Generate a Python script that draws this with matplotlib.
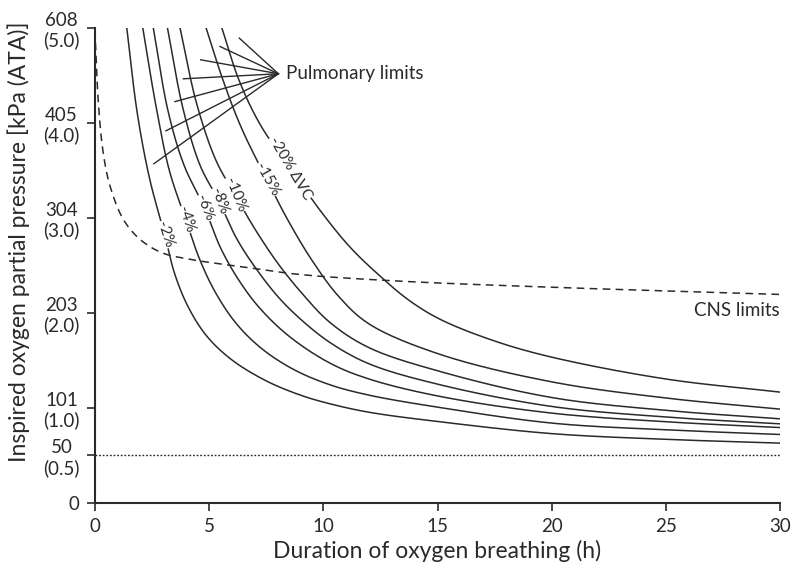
import numpy as np
import matplotlib
matplotlib.use("Agg")
import matplotlib.pyplot as plt

plt.rcParams['font.family'] = ['Lato', 'DejaVu Sans']

# pulmonary limit curves, duration (h) vs inspired PO2 (ATA), one pair per vital capacity decrement
t_2 = [1.39, 1.85, 2.4, 3.05, 3.5, 4.1, 4.9, 6.0, 7.5, 9.0, 10.29, 12.0, 15.1, 20.0, 25.0, 30.0]
p_2 = [5.0, 4.1, 3.4, 2.82, 2.4, 2.05, 1.75, 1.5, 1.28, 1.13, 1.039, 0.95, 0.85, 0.725, 0.665, 0.625]

t_4 = [2.09, 2.65, 3.25, 3.97, 4.6, 5.3, 6.2, 7.3, 8.7, 10.29, 12.0, 15.1, 20.0, 25.0, 30.0]
p_4 = [5.0, 4.2, 3.5, 2.98, 2.55, 2.2, 1.88, 1.62, 1.40, 1.239, 1.13, 1.0, 0.836, 0.765, 0.716]

t_6 = [2.55, 3.2, 3.9, 4.8, 5.5, 6.3, 7.2, 8.5, 10.29, 12.0, 15.1, 20.0, 25.0, 30.0]
p_6 = [5.0, 4.12, 3.55, 3.10, 2.68, 2.34, 2.05, 1.75, 1.467, 1.30, 1.117, 0.941, 0.85, 0.789]

t_8 = [3.17, 3.85, 4.6, 5.43, 6.2, 7.0, 8.0, 9.0, 10.29, 12.0, 15.1, 20.0, 25.0, 30.0]
p_8 = [5.0, 4.15, 3.55, 3.17, 2.78, 2.48, 2.17, 1.93, 1.684, 1.46, 1.24, 1.011, 0.9, 0.828]

t_10 = [3.72, 4.45, 5.3, 6.13, 7.0, 8.0, 9.0, 10.29, 12.0, 15.1, 20.0, 25.0, 30.0]
p_10 = [5.0, 4.2, 3.6, 3.24, 2.88, 2.52, 2.22, 1.895, 1.63, 1.38, 1.105, 0.97, 0.881]

t_15 = [4.86, 5.6, 6.4, 7.52, 8.5, 9.5, 10.67, 12.0, 15.1, 20.0, 25.0, 30.0]
p_15 = [5.0, 4.45, 3.95, 3.40, 2.95, 2.55, 2.17, 1.88, 1.56, 1.27, 1.1, 0.983]

t_20 = [5.55, 6.3, 7.23, 8.54, 10.0, 11.2, 12.5, 13.72, 15.1, 17.5, 20.0, 25.0, 30.0]
p_20 = [5.0, 4.45, 3.98, 3.52, 3.03, 2.68, 2.38, 2.134, 1.93, 1.70, 1.53, 1.30, 1.162]

# CNS limit (dashed)
t_cns = [0.02, 0.15, 0.36, 0.66, 1.24, 1.97, 2.92, 4.16, 6.79, 8.98, 13.36, 19.5, 30.0]
p_cns = [4.84, 4.2, 3.68, 3.33, 2.98, 2.77, 2.63, 2.56, 2.47, 2.40, 2.33, 2.27, 2.19]

# curve labels: text, position on the curve, angle
curve_labels = ["-2%", "-4%", "-6%", "-8%", "-10%", "-15%", "-20% ΔVC"]
label_t = [3.05, 3.97, 4.8, 5.43, 6.13, 7.52, 8.54]
label_p = [2.82, 2.98, 3.10, 3.17, 3.24, 3.40, 3.52]
label_rot = [-72, -72, -68, -70, -68, -61, -59.5]

# pointer lines fanning out from the "Pulmonary limits" note
hub = (8.03, 4.513)
pointer_t = [6.32, 5.475, 4.63, 3.87, 3.50, 3.11, 2.58]
pointer_p = [4.888, 4.80, 4.66, 4.46, 4.22, 3.913, 3.566]

ytick_vals = [0, 0.5, 1, 2, 3, 4, 5]
ytick_labels = ["0", "50\n(0.5)", "101\n(1.0)", "203\n(2.0)", "304\n(3.0)", "405\n(4.0)", "608\n(5.0)"]
xtick_vals = [0, 5, 10, 15, 20, 25, 30]

# px per unit on each axis, used so the smoothing works in screen proportions
SX, SY = 685 / 30, 475 / 5


def smooth(xs, ys, n=24):
    # centripetal catmull-rom through the read points
    pts = np.column_stack([np.asarray(xs, float) * SX, np.asarray(ys, float) * SY])
    pts = np.vstack([2 * pts[0] - pts[1], pts, 2 * pts[-1] - pts[-2]])
    out = []
    for i in range(len(pts) - 3):
        p0, p1, p2, p3 = pts[i:i + 4]
        k0 = 0.0
        k1 = k0 + np.linalg.norm(p1 - p0) ** 0.5
        k2 = k1 + np.linalg.norm(p2 - p1) ** 0.5
        k3 = k2 + np.linalg.norm(p3 - p2) ** 0.5
        u = np.linspace(k1, k2, n, endpoint=False)[:, None]
        a1 = (k1 - u) / (k1 - k0) * p0 + (u - k0) / (k1 - k0) * p1
        a2 = (k2 - u) / (k2 - k1) * p1 + (u - k1) / (k2 - k1) * p2
        a3 = (k3 - u) / (k3 - k2) * p2 + (u - k2) / (k3 - k2) * p3
        b1 = (k2 - u) / (k2 - k0) * a1 + (u - k0) / (k2 - k0) * a2
        b2 = (k3 - u) / (k3 - k1) * a2 + (u - k1) / (k3 - k1) * a3
        out.append((k2 - u) / (k2 - k1) * b1 + (u - k1) / (k2 - k1) * b2)
    out.append(pts[-2][None, :])
    c = np.vstack(out)
    return c[:, 0] / SX, c[:, 1] / SY


ink = "#2a2a2a"

fig = plt.figure(figsize=(7.92, 5.68), dpi=100)
ax = fig.add_axes([95 / 792, 65.5 / 568, 685 / 792, 475 / 568])

curves = [(t_2, p_2), (t_4, p_4), (t_6, p_6), (t_8, p_8), (t_10, p_10), (t_15, p_15), (t_20, p_20)]
for t, p in curves:
    xs, ys = smooth(t, p)
    ax.plot(xs, ys, color=ink, lw=1.1, solid_capstyle="butt")

xs, ys = smooth(t_cns, p_cns)
ax.plot(xs, ys, color=ink, lw=1.1, linestyle=(0, (5, 3.5)))

# 0.5 ATA line
ax.plot([0, 30], [0.5, 0.5], color=ink, lw=1.0, linestyle=(0, (1.3, 1.3)))

for pt, pp in zip(pointer_t, pointer_p):
    ax.plot([hub[0], pt], [hub[1], pp], color=ink, lw=1.0)

for txt, lt, lp, rot in zip(curve_labels, label_t, label_p, label_rot):
    ax.text(lt, lp, txt, rotation=rot, rotation_mode="anchor", ha="center", va="center",
            fontsize=11, color=ink, family=['Lato', 'DejaVu Sans'],
            bbox=dict(facecolor="white", edgecolor="none", pad=0.6))

ax.text(hub[0] + 0.35, hub[1], "Pulmonary limits", ha="left", va="center", fontsize=13.5, color=ink)
ax.text(30, 2.02, "CNS limits", ha="right", va="center", fontsize=13.5, color=ink)

ax.set_xlim(0, 30)
ax.set_ylim(0, 5)
ax.set_xticks(xtick_vals)
ax.set_yticks(ytick_vals)
ax.set_yticklabels(ytick_labels)
for lab in ax.get_yticklabels():
    lab.set_multialignment("center")

for side in ["top", "right"]:
    ax.spines[side].set_visible(False)
for side in ["left", "bottom"]:
    ax.spines[side].set_color(ink)
    ax.spines[side].set_linewidth(1.5)

ax.tick_params(direction="out", length=6, width=1.2, color=ink, labelcolor=ink, labelsize=13.5, pad=5)

fig.text(437 / 792, 17 / 568, "Duration of oxygen breathing (h)", ha="center", va="center",
         fontsize=16.5, color=ink)
fig.text(19 / 792, 326 / 568, "Inspired oxygen partial pressure [kPa (ATA)]", ha="center", va="center",
         rotation=90, fontsize=16.5, color=ink)

fig.savefig("out.png", dpi=100, facecolor="white")
